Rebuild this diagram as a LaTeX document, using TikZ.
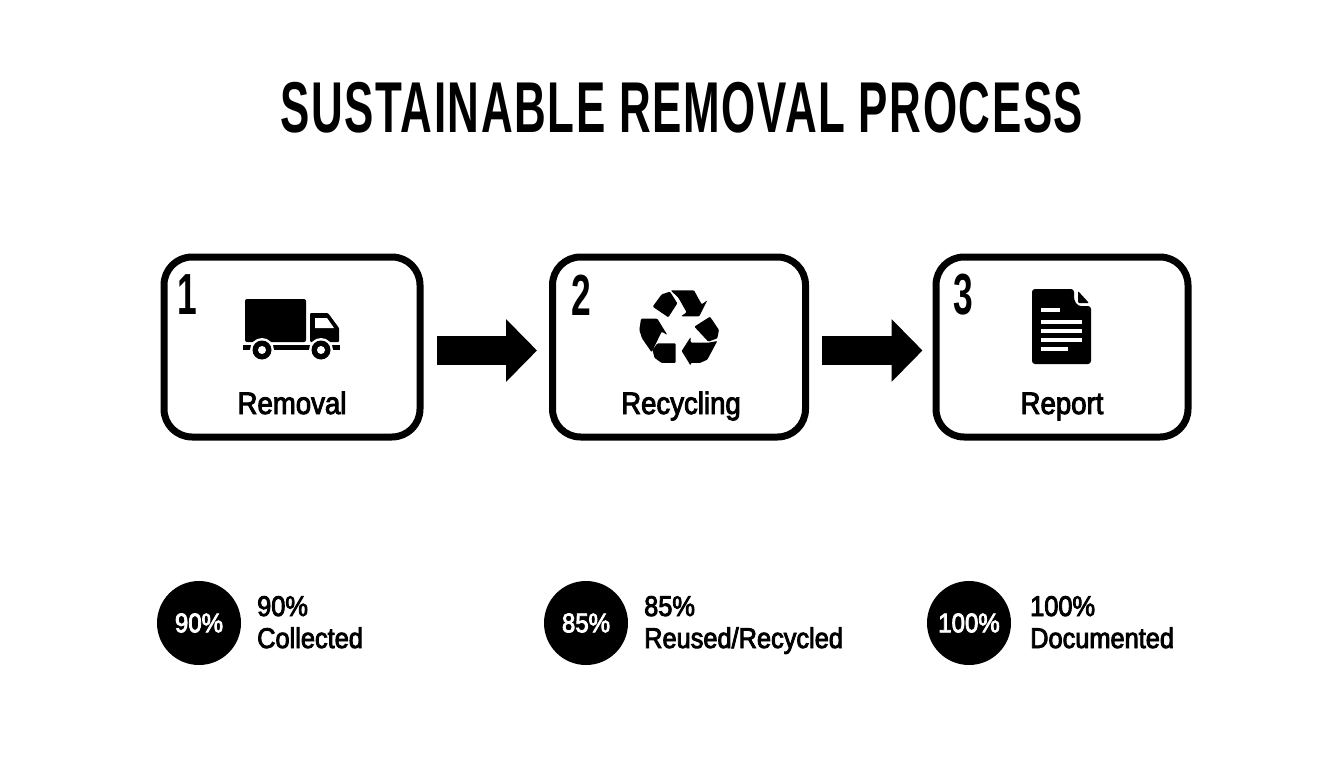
\documentclass[tikz,border=0pt]{standalone}
\usepackage{fontspec}
\usetikzlibrary{arrows.meta,positioning}
\setmainfont{Liberation Sans}
\newfontfamily\narrowfont[FakeStretch=0.61,LetterSpace=2.2]{Liberation Sans}
\newfontfamily\labelfont[FakeStretch=0.89,FakeBold=3]{Liberation Sans}
\begin{document}
\begin{tikzpicture}[x=1pt,y=-1pt,>=stealth,
  stagebox/.style = {draw, rounded corners=28pt, line width=7pt, minimum height=180pt, inner sep=0pt},
  stagenum/.style = {font=\narrowfont\bfseries\fontsize{58}{58}\selectfont, inner sep=0pt},
  stagelabel/.style = {anchor=base, font=\labelfont\fontsize{31}{31}\selectfont, inner sep=0pt},
  blockarrow/.style = {line width=29pt, -{Triangle[length=31pt,width=61pt]}},
  ratedot/.style = {circle, fill=black, text=white, minimum size=84pt, inner sep=0pt, font=\labelfont\fontsize{27}{27}\selectfont},
  ratetext/.style = {anchor=base west, align=left, inner sep=0pt, font=\labelfont\fontsize{28.5}{32}\selectfont},
  iconline/.style = {white, line width=3.5pt}]
\useasboundingbox (0,0) rectangle (1344,768);
\node (title) at (682,108)[font=\narrowfont\bfseries\fontsize{72}{72}\selectfont, inner sep=0pt] {SUSTAINABLE REMOVAL PROCESS};
\node (removal) at (292,347)[stagebox, minimum width=256pt] {};
\node (recycling) at (679,347)[stagebox, minimum width=253pt] {};
\node (report) at (1062,347)[stagebox, minimum width=252pt] {};
\node (num1) at (187,295)[stagenum] {1};
\node (num2) at (581,295)[stagenum] {2};
\node (num3) at (963,295)[stagenum] {3};
\node (lab1) at (292,414)[stagelabel] {Removal};
\node (lab2) at (681,414)[stagelabel] {Recycling};
\node (lab3) at (1062,414)[stagelabel] {Report};
\draw[blockarrow, shorten <=13pt, shorten >=12pt] ([yshift=-3.5pt]removal.east) -- ([yshift=-3.5pt]recycling.west);
\draw[blockarrow, shorten <=13pt, shorten >=10pt] ([yshift=-3.5pt]recycling.east) -- ([yshift=-3.5pt]report.west);
\node (dot1) at (199,623)[ratedot] {90\%};
\node (dot2) at (586,623)[ratedot] {85\%};
\node (dot3) at (969,623)[ratedot] {100\%};
\node (rate1) at (257,648)[ratetext] {90\%\\Collected};
\node (rate2) at (644,648)[ratetext] {85\%\\Reused/Recycled};
\node (rate3) at (1030,648)[ratetext] {100\%\\Documented};
% truck
\fill[rounded corners=2pt] (245,299) rectangle (306,342);
\fill[rounded corners=1pt] (310,313) -- (328,313) -- (339,328) -- (339,342) -- (310,342) -- cycle;
\fill[white] (315,318) -- (327,318) -- (334,328) -- (315,328) -- cycle;
\fill (243,345) rectangle (340,350);
\foreach \wx in {262,321} {
  \fill[white] (\wx,350) circle (12pt);
  \fill (\wx,350) circle (9.5pt);
  \fill[white] (\wx,350) circle (4pt);
}
% recycling arrows
\begin{scope}[shift={(620,275)},x=0.3333pt,y=-0.3333pt]
\fill[rounded corners=1pt] (98,95) -- (125,58) -- (150,50) -- (172,85) -- (145,127) -- cycle;
\fill[rounded corners=1pt] (152,46) -- (222,46) -- (245,88) -- (262,76) -- (238,124) -- (183,124) -- (200,112) -- (175,68) -- cycle;
\fill[rounded corners=1pt] (223,155) -- (270,125) -- (297,165) -- (292,190) -- (265,200) -- cycle;
\fill[rounded corners=1pt] (292,198) -- (262,254) -- (240,264) -- (212,264) -- (212,272) -- (185,228) -- (212,186) -- (212,203) -- (265,203) -- cycle;
\fill[rounded corners=1pt] (167,205) -- (167,264) -- (125,264) -- (103,248) -- (98,225) -- (112,205) -- cycle;
\fill[rounded corners=1pt] (63,131) -- (112,131) -- (142,180) -- (125,170) -- (95,232) -- (66,190) -- (58,165) -- cycle;
\end{scope}
% report sheet
\fill[rounded corners=3pt] (1032,289) -- (1074,289) -- (1074,300) -- (1078,306) -- (1091,306) -- (1091,364) -- (1032,364) -- cycle;
\fill[rounded corners=1pt] (1078,291) -- (1089,303) -- (1078,303) -- cycle;
\draw[iconline] (1041,310) -- (1060,310);
\foreach \ly in {322,331,340} {
  \draw[iconline] (1041,\ly) -- (1082,\ly);
}
\draw[iconline] (1041,349) -- (1068,349);
\end{tikzpicture}
\end{document}
